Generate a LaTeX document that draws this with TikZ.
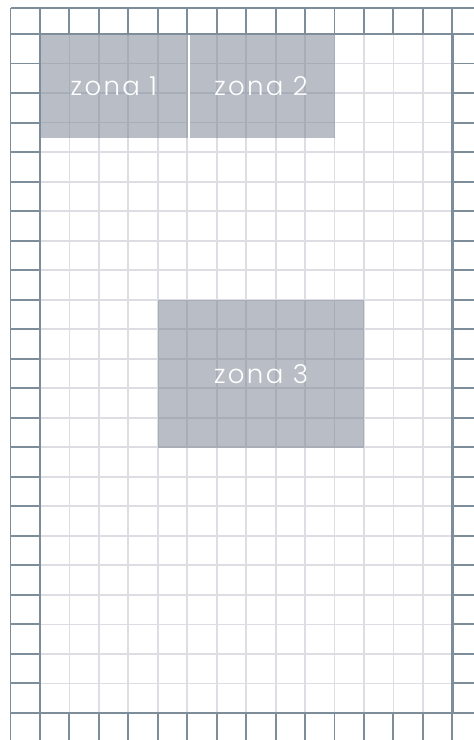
\documentclass[tikz,border=0pt]{standalone}
\usepackage{fontspec}
\newfontfamily\zonefont{Poppins}[UprightFont=* Light, LetterSpace=9]
\definecolor{frameC}{HTML}{7D8D99}
\definecolor{gridC}{HTML}{DDDEE3}
\definecolor{zoneC}{RGB}{117,127,143}
\begin{document}
\begin{tikzpicture}[x=1pt,y=-1pt,
  darkline/.style={draw=frameC, line width=1.9pt},
  lightline/.style={draw=gridC, line width=1.8pt},
  zone/.style={fill=zoneC, fill opacity=0.5, text opacity=1, text=white, inner sep=0pt, anchor=north west, font=\zonefont\fontsize{26}{30}\selectfont}]
\useasboundingbox (0,0) rectangle (474,740);
\fill[white] (0,0) rectangle (474,740);
\begin{scope}
\clip (0,0) rectangle (474,740);
\foreach \k in {0,...,16} \draw[darkline] ({10.5+29.45*\k},8) -- ({10.5+29.45*\k},742);
\draw[darkline] (10.5,8) -- (476,8);
\foreach \j in {0,...,24} \draw[darkline] (10.5,{34+29.52*\j}) -- (476,{34+29.52*\j});
\end{scope}
\fill[white] (40,34) rectangle (452.25,713);
\foreach \k in {1,...,13} \draw[lightline] ({40+29.45*\k},34) -- ({40+29.45*\k},713);
\foreach \j in {1,...,22} \draw[lightline] (40,{34+29.52*\j}) -- (452.25,{34+29.52*\j});
\node[zone, minimum width=147.25pt, minimum height=103.3pt] (z1) at (40,34) {zona 1};
\node[zone, minimum width=147.25pt, minimum height=103.3pt] (z2) at (187.25,34) {zona 2};
\node[zone, minimum width=206.15pt, minimum height=147.6pt] (z3) at (157.8,299.7) {zona 3};
\draw[white, line width=1.6pt] ([xshift=1.5pt]z2.north west) -- ([xshift=1.5pt]z2.south west);
\draw[frameC, line width=2.6pt] (40,34) rectangle (452.25,713);
\end{tikzpicture}
\end{document}
